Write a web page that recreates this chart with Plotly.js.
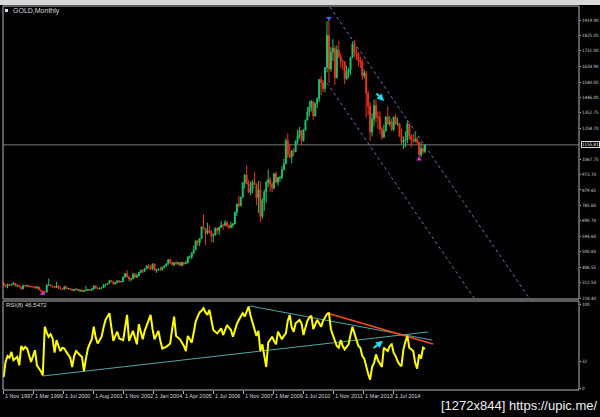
<!DOCTYPE html>
<html><head><meta charset="utf-8">
<script src="https://cdn.plot.ly/plotly-3.0.1.min.js"></script>
<style>html,body{margin:0;padding:0;background:#000;}#chart{width:600px;height:417px;}</style>
</head><body><div id="chart"></div>
<script>
// Monthly GOLD candles, Nov 1997 .. Oct 2015 (values read / estimated from the picture)
const openP = [
311,296,
290,303,297,301,309,293,296,288,273,294,292,294,
288,287,287,279,286,268,262,255,254,299,299,291,
290,283,293,278,274,272,288,276,277,273,264,270,
273,265,267,258,264,266,270,266,273,293,279,275,
279,282,297,302,308,326,318,304,312,324,317,319,
347,368,347,334,336,364,346,354,375,388,384,398,
416,400,396,427,387,394,395,391,408,416,428,453,
438,422,434,428,436,417,436,429,433,469,470,495,
513,568,556,582,654,643,613,632,623,599,604,646,
632,650,665,662,680,659,650,665,672,743,794,783,
834,923,972,916,865,886,928,913,833,880,718,816,
869,927,942,916,891,979,927,955,955,1003,1040,1181,
1096,1081,1118,1113,1180,1212,1244,1181,1247,1307,1357,1385,
1421,1332,1411,1439,1556,1536,1500,1628,1826,1620,1722,1746,
1566,1737,1697,1669,1664,1561,1598,1614,1693,1773,1719,1712,
1676,1663,1578,1596,1472,1393,1234,1313,1396,1327,1323,1253,
1202,1240,1326,1284,1296,1250,1327,1282,1287,1210,1172,1182,
1184,1283,1213,1183,1182,1190,1172,1095,1134,1115];
const highP = [
314,299,
306,304,303,316,310,300,298,290,300,300,300,297,
294,293,291,289,290,268,264,260,302,338,302,292,
292,317,300,291,278,294,290,280,279,275,273,276,
274,272,269,266,293,274,272,279,294,295,284,281,
286,306,305,310,327,330,322,316,327,326,323,349,
372,389,354,341,374,372,367,376,392,392,400,417,
427,420,429,428,396,398,410,409,417,431,456,457,
439,437,447,438,437,441,438,448,475,481,497,540,
572,573,585,655,730,645,678,663,636,614,649,650,
656,690,672,695,690,670,684,676,746,795,846,839,
929,975,1033,940,930,940,988,920,935,932,829,882,
935,1006,960,930,981,992,960,966,1025,1070,1195,1227,
1161,1125,1135,1181,1249,1265,1245,1252,1310,1388,1424,1431,
1424,1411,1447,1557,1577,1552,1632,1913,1920,1755,1803,1764,
1764,1791,1718,1677,1669,1640,1627,1693,1788,1796,1755,1723,
1696,1683,1617,1607,1488,1418,1348,1434,1434,1361,1361,1267,
1280,1332,1392,1332,1315,1327,1345,1322,1289,1256,1207,1238,
1307,1287,1220,1225,1232,1205,1175,1170,1157,1160];
const lowP = [
290,283,
278,290,292,298,290,284,285,271,273,288,289,284,
284,281,277,277,267,257,253,251,253,294,287,280,
280,282,274,272,268,270,275,270,268,263,263,266,
262,254,255,254,262,263,262,265,270,276,272,271,
276,282,288,298,307,315,301,302,310,311,313,316,
343,345,319,320,336,340,341,352,372,371,376,397,
399,391,391,386,372,384,384,388,399,410,421,427,
416,412,423,420,414,413,418,426,433,460,456,488,
512,539,535,580,640,542,608,612,558,560,602,610,
605,648,636,660,651,640,646,648,670,720,773,780,
834,890,915,863,848,860,910,786,740,681,703,752,
802,897,866,865,883,920,905,931,945,1000,1040,1075,
1074,1044,1088,1113,1161,1195,1156,1176,1241,1307,1330,1360,
1309,1331,1381,1418,1462,1478,1478,1600,1535,1604,1670,1523,
1563,1687,1627,1614,1527,1552,1564,1582,1686,1692,1673,1636,
1626,1554,1562,1321,1338,1180,1207,1270,1292,1251,1221,1187,
1200,1238,1277,1268,1240,1240,1282,1273,1204,1161,1131,1142,
1167,1191,1142,1167,1170,1162,1077,1080,1099,1106];
const closeP = [
296,290,
303,297,301,309,293,296,288,273,294,292,294,288,
287,287,279,286,268,262,255,254,299,299,291,290,
283,293,278,274,272,288,276,277,273,264,270,273,
265,267,258,264,266,270,266,273,293,279,275,279,
282,297,302,308,326,318,304,312,324,317,319,347,
368,347,334,336,364,346,354,375,388,384,398,416,
400,396,427,387,394,395,391,408,416,428,453,438,
422,434,428,436,417,436,429,433,469,470,495,513,
568,556,582,654,643,613,632,623,599,604,646,632,
650,665,662,680,659,650,665,672,743,794,783,834,
923,972,916,865,886,928,913,833,880,718,816,869,
927,942,916,891,979,927,955,955,1003,1040,1181,1096,
1081,1118,1113,1180,1212,1244,1181,1247,1307,1357,1385,1421,
1332,1411,1439,1556,1536,1500,1628,1826,1620,1722,1746,1566,
1737,1697,1669,1664,1561,1598,1614,1693,1773,1719,1712,1676,
1663,1578,1596,1472,1393,1234,1313,1396,1327,1323,1253,1202,
1240,1326,1284,1296,1250,1327,1282,1287,1210,1172,1182,1184,
1283,1213,1183,1182,1190,1172,1095,1134,1115,1155.81];
// RSI(8) values
const rsiVals = [
13,31,38,36,43,33,35,37,27,50,46,49,47,40,31,38,45,27,24,20,
15,73,66,61,64,59,42,57,50,44,48,47,43,40,36,25,38,44,41,39,
37,20,35,47,53,58,73,60,53,57,61,72,81,85,89,72,56,62,67,59,
58,57,72,87,56,62,68,60,52,76,66,58,68,74,80,87,70,58,63,68,
56,47,48,49,51,53,70,85,62,60,58,54,50,44,62,58,54,66,79,85,
90,92,95,90,87,93,80,69,67,65,68,71,63,69,75,72,69,61,70,76,
81,85,89,85,90,97,86,77,68,62,68,44,52,40,25,54,58,61,56,52,
67,62,58,62,65,80,87,72,67,77,79,81,77,63,72,80,84,86,70,75,
81,77,73,80,85,88,89,70,63,57,50,48,57,50,46,49,52,63,73,65,
58,50,48,38,35,25,17,10,25,30,40,33,28,25,48,46,44,50,52,42,
38,32,28,26,46,55,62,48,46,44,30,23,40,35,48,46.55];

const xTickLabels = ["1 Nov 1997","1 Mar 1999","1 Jul 2000","1 Aug 2001","1 Nov 2002","1 Jan 2004","1 Apr 2005","1 Jul 2006","1 Nov 2007","1 Mar 2009","1 Jul 2010","1 Nov 2011","1 Mar 2013","1 Jul 2014"];
const priceTicks = [1919.90,1825.05,1731.00,1634.90,1540.05,1446.00,1352.75,1258.70,1067.75,973.70,879.65,785.60,690.70,594.60,500.60,406.55,312.50,218.40];
const rsiTicks = [0,32,100];
const currentPrice = 1155.81;
const rsiLabel = "RSI(8) 46.5472";
const chartTitle = "GOLD,Monthly";

// drawn objects: [barIndex, value] pairs
const channelUpper = [[166.5,1999.5],[268.1,218.5]];
const channelLower = [[165.0,1534.3],[240.0,218.5]];
const rsiSupport = [[20.1,14.3],[216.5,66.7]];
const rsiResist1 = [[125.7,97.6],[218.6,57.1]];
const rsiResist2 = [[165.0,89.3],[219.1,52.4]];
const arrowMain = [[189.5,1479],[194.1,1424]];
const arrowRsi = [[188.0,46.4],[193.6,56.0]];
const peakMark = [166,1930];
const lowMarks = [[20,246],[212,1068]];

// ---- layout constants (pixels) ----
const W=600,H=417,ML=3,MR=21,MT=6,MB=27;
const PW=W-ML-MR, PH=H-MT-MB;
const BAR_PX=1.96, BAR0_PX=3.6; // bar 0 centre in page px
const xr=[(ML-BAR0_PX)/BAR_PX,(ML+PW-BAR0_PX)/BAR_PX];
const mainDom=[(H-MB-299)/PH,1];
const rsiDom=[0,(H-MB-301)/PH];
const idx = closeP.map((_,i)=>i);
const tickPos = xTickLabels.map((_,k)=>(ML+30*k-BAR0_PX)/BAR_PX);
const F="Liberation Sans, Arial, sans-serif";
const FN="Liberation Sans Narrow, DejaVu Sans Condensed, Liberation Sans, sans-serif";
const py = p => (H-MB-p)/PH; // page px -> paper y
const px = p => (p-ML)/PW;

const traces=[
 {type:'candlestick',x:idx,open:openP,high:highP,low:lowP,close:closeP,xaxis:'x',yaxis:'y',
  increasing:{line:{color:'#1fc46a',width:1},fillcolor:'#1fc46a'},
  decreasing:{line:{color:'#f0321e',width:1},fillcolor:'#f0321e'},
  whiskerwidth:0,hoverinfo:'skip',showlegend:false},
 {type:'scatter',mode:'lines',x:idx,y:rsiVals,xaxis:'x',yaxis:'y2',
  line:{color:'#ffff00',width:2},hoverinfo:'skip',showlegend:false},
 {type:'scatter',mode:'markers',x:[peakMark[0]],y:[peakMark[1]],xaxis:'x',yaxis:'y',
  marker:{symbol:'triangle-down',size:5,color:'#2f6bff'},hoverinfo:'skip',showlegend:false},
 {type:'scatter',mode:'markers',x:lowMarks.map(d=>d[0]),y:lowMarks.map(d=>d[1]),xaxis:'x',yaxis:'y',
  marker:{symbol:'triangle-up',size:5,color:'#e030e0'},hoverinfo:'skip',showlegend:false}
];

function seg(pts,yref,color,dash,width,layer){
 return {type:'line',xref:'x',yref:yref,x0:pts[0][0],y0:pts[0][1],x1:pts[1][0],y1:pts[1][1],
   line:{color:color,dash:dash,width:width},layer:layer||'above'};
}
const shapes=[
 {type:'rect',xref:'paper',yref:'paper',x0:px(0),x1:px(W),y0:py(5),y1:py(0),fillcolor:'#d8d8d8',line:{width:0}},
 {type:'rect',xref:'paper',yref:'paper',x0:px(5),x1:px(8),y0:py(12),y1:py(9),fillcolor:'#e0e0e0',line:{width:0}},
 {type:'line',xref:'paper',yref:'y',x0:0,x1:1,y0:currentPrice,y1:currentPrice,line:{color:'#7a7a7a',width:1},layer:'below'},
 seg(channelUpper,'y','#5a78b8','dot',1),
 seg(channelLower,'y','#5a78b8','dot',1),
 seg(rsiSupport,'y2','#4fa8a2','solid',1,'below'),
 seg(rsiResist1,'y2','#4fa8a2','solid',1,'below'),
 seg(rsiResist2,'y2','#ff4a1a','solid',1.5,'below'),
 {type:'rect',xref:'paper',yref:'paper',x0:0,x1:1,y0:mainDom[0],y1:mainDom[1],line:{color:'#b8b8b8',width:1}},
 {type:'rect',xref:'paper',yref:'paper',x0:0,x1:1,y0:rsiDom[0],y1:rsiDom[1],line:{color:'#b8b8b8',width:1}}
];

const annotations=[
 {xref:'paper',yref:'paper',x:px(11),y:py(10.5),xanchor:'left',yanchor:'middle',showarrow:false,
  text:chartTitle,font:{family:F,size:7,color:'#d8d8d8'}},
 {xref:'paper',yref:'paper',x:px(4),y:py(305),xanchor:'left',yanchor:'middle',showarrow:false,
  text:rsiLabel,font:{family:F,size:6,color:'#d8d8d8'}},
 {xref:'paper',yref:'y',x:1,xanchor:'left',xshift:2,y:currentPrice,yanchor:'middle',showarrow:false,
  text:currentPrice.toFixed(2),font:{family:FN,size:4.5,color:'#ffffff'},bgcolor:'#000000',bordercolor:'#e0e0e0',borderwidth:1,borderpad:0},
 {xref:'paper',yref:'paper',x:px(W-1),y:py(405),xanchor:'right',yanchor:'middle',showarrow:false,
  text:'[1272x844] https://upic.me/',font:{family:F,size:13,color:'#f0f0f0'}},
 {xref:'x',yref:'y',axref:'x',ayref:'y',ax:arrowMain[0][0],ay:arrowMain[0][1],x:arrowMain[1][0],y:arrowMain[1][1],
  text:'',showarrow:true,arrowhead:2,arrowsize:0.7,arrowwidth:2,arrowcolor:'#1ee0f0'},
 {xref:'x',yref:'y2',axref:'x',ayref:'y2',ax:arrowRsi[0][0],ay:arrowRsi[0][1],x:arrowRsi[1][0],y:arrowRsi[1][1],
  text:'',showarrow:true,arrowhead:2,arrowsize:0.7,arrowwidth:2,arrowcolor:'#1ee0f0'}
];
xTickLabels.forEach((t,k)=>annotations.push({xref:'x',yref:'paper',x:tickPos[k],xanchor:'left',xshift:0,
  y:py(395.5),yanchor:'middle',showarrow:false,text:t,font:{family:F,size:5.5,color:'#d8d8d8'}}));

const layout={
 width:W,height:H,margin:{l:ML,r:MR,t:MT,b:MB,pad:0},
 paper_bgcolor:'#000000',plot_bgcolor:'rgba(0,0,0,0)',showlegend:false,
 xaxis:{range:xr,anchor:'y2',showgrid:false,zeroline:false,showline:false,rangeslider:{visible:false},
   tickmode:'array',tickvals:tickPos,ticks:'outside',ticklen:3,tickcolor:'#b8b8b8',showticklabels:false,fixedrange:true},
 yaxis:{domain:mainDom,range:[212.4,2005.6],side:'right',anchor:'x',showgrid:false,zeroline:false,showline:false,
   tickmode:'array',tickvals:priceTicks,ticktext:priceTicks.map(v=>v.toFixed(2)),
   ticks:'outside',ticklen:1,tickcolor:'#b8b8b8',tickfont:{family:FN,size:4.5,color:'#d0d0d0'}},
 yaxis2:{domain:rsiDom,range:[-2.38,103.57],side:'right',anchor:'x',showgrid:false,zeroline:false,showline:false,
   tickmode:'array',tickvals:rsiTicks,ticktext:rsiTicks.map(String),
   ticks:'outside',ticklen:1,tickcolor:'#b8b8b8',tickfont:{family:FN,size:4.5,color:'#d0d0d0'}},
 shapes:shapes,annotations:annotations
};
Plotly.newPlot('chart',traces,layout,{staticPlot:true,displayModeBar:false});
</script></body></html>
